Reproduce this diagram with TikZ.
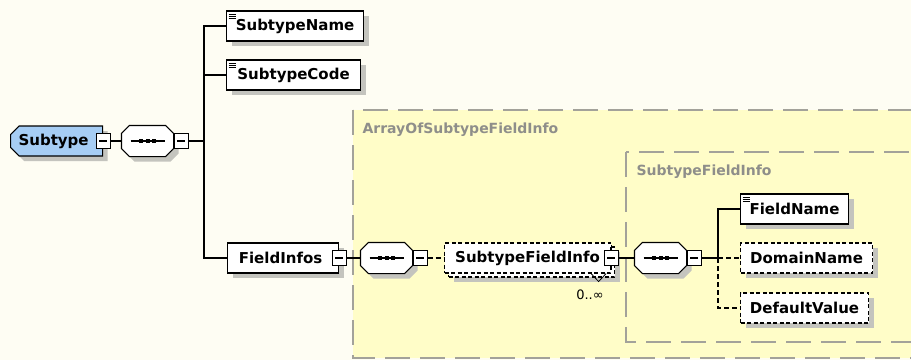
\documentclass[tikz,border=0pt]{standalone}
\usepackage{fontspec}
\setmainfont{DejaVu Sans}
\usetikzlibrary{positioning,shapes.misc,shadows}

\definecolor{paper}{HTML}{FEFDF3}
\definecolor{groupfill}{HTML}{FFFDC8}
\definecolor{groupline}{HTML}{A3A29A}
\definecolor{grouptext}{HTML}{8E8E8A}
\definecolor{shadowgray}{HTML}{C4C4BE}
\definecolor{rootblue}{HTML}{A6CDF4}

% octagon round a sequence node, shifted by #2,#3
\newcommand{\octpath}[3]{([xshift=#2+8pt,yshift=#3]#1.north west) -- ([xshift=#2-8pt,yshift=#3]#1.north east)
    -- ([xshift=#2,yshift=#3-8pt]#1.north east) -- ([xshift=#2,yshift=#3+8pt]#1.south east)
    -- ([xshift=#2-8pt,yshift=#3]#1.south east) -- ([xshift=#2+8pt,yshift=#3]#1.south west)
    -- ([xshift=#2,yshift=#3+8pt]#1.south west) -- ([xshift=#2,yshift=#3-8pt]#1.north west) -- cycle}

\begin{document}
\begin{tikzpicture}[
        x=1pt, y=-1pt, line width=1.1pt,
        every node/.style={font=\fontsize{15}{17}\selectfont\bfseries},
        shade/.style={drop shadow={shadow xshift=5pt, shadow yshift=-5pt, fill=shadowgray, opacity=1}},
        box/.style={rectangle, draw, fill=white, anchor=west, minimum height=30pt, inner xsep=6pt, inner ysep=0pt},
        elem/.style={box, shade},
        optborder/.style={dash pattern=on 4pt off 2.5pt},
        optelem/.style={elem, optborder},
        optline/.style={dash pattern=on 5pt off 3pt},
        leaf/.style={path picture={\foreach \k in {0,1,2}
            \draw[line width=0.8pt] ([xshift=2pt, yshift={-(3+2*\k)*1pt}]path picture bounding box.north west) -- ++(7pt,0pt);}},
        root/.style={chamfered rectangle, chamfered rectangle corners={north west,south west}, chamfered rectangle xsep=5pt,
            draw, fill=rootblue, shade, anchor=west, minimum height=30pt, inner xsep=3pt, inner ysep=0pt},
        seqbox/.style={rectangle, minimum width=51pt, minimum height=30pt, inner sep=0pt},
        mbox/.style={rectangle, draw, fill=white, minimum width=14pt, minimum height=15pt, inner sep=0pt, line width=1pt,
            path picture={\draw[line width=1.2pt] ([xshift=3pt]path picture bounding box.west) -- ([xshift=-3pt]path picture bounding box.east);}},
        group/.style={fill=groupfill, draw=groupline, line width=1.6pt, dash pattern=on 25pt off 10pt},
        grouplabel/.style={anchor=west, text=grouptext, inner sep=0pt, font=\fontsize{14}{16}\selectfont\bfseries}
    ]
    \useasboundingbox (0,0) rectangle (911,360);
    \fill[paper] (0,0) rectangle (911,360);

    % complex type groups
    \draw[group] (353,110) rectangle (945,358);
    \node[grouplabel] (arraylbl) at (362,130) {ArrayOfSubtypeFieldInfo};
    \draw[group] (626,152) rectangle (945,342);
    \node[grouplabel] (sfilbl) at (636,172) {SubtypeFieldInfo};

    % sequence compositors
    \node[seqbox] (seq1) at (147.5,141) {};
    \node[seqbox] (seq2) at (386.5,258) {};
    \node[seqbox] (seq3) at (660.5,258) {};
    \foreach \s in {seq1,seq2,seq3} {
        \fill[shadowgray] \octpath{\s}{5pt}{-5pt};
        \filldraw[fill=white] \octpath{\s}{0pt}{0pt};
        \draw ([xshift=-17pt]\s.center) -- ([xshift=17pt]\s.center);
        \foreach \d in {-6.5,0,6.5}
            \fill ([xshift=\d pt]\s.center) ++(-2pt,-2pt) rectangle ++(4pt,4pt);
    }
    \node[mbox, right=0pt of seq1] (seq1m) {};
    \node[mbox, right=0pt of seq2] (seq2m) {};
    \node[mbox, right=0pt of seq3] (seq3m) {};

    % root
    \node[root, minimum width=89pt] (subtype) at (10,141) {Subtype\hspace*{6pt}};
    \node[mbox] (subtypem) at (subtype.east) {};
    \coordinate (fork1) at (204,141);

    \node[elem, leaf, minimum width=137pt] (sname) at (226,26) {SubtypeName};
    \node[elem, leaf, minimum width=134pt] (scode) at (226,75) {SubtypeCode};
    \node[elem, minimum width=111pt] (finfos) at (227,258) {FieldInfos\hspace*{5pt}};
    \node[mbox] (finfosm) at (finfos.east) {};

    % array content
    \node[optelem, minimum width=166pt] (sfiback) at (448,262) {};
    \node[box, optborder, minimum width=166pt] (sfi) at (444,258) {SubtypeFieldInfo};
    \node[mbox] (sfim) at (sfi.east) {};
    \draw[line width=0.9pt] (sfim.north) -- ++(0,-5);
    \draw[line width=0.9pt] (sfim.south) -- ++(0,4);
    \draw[line width=0.8pt] ([xshift=-20pt]sfi.south east) -- ++(7.5,8) -- ++(7.5,-8);
    \node[font=\fontsize{13}{15}\selectfont] (occurs) at (590,295) {0..∞};

    % subtype field info content
    \coordinate (fork2) at (718,258);
    \node[elem, leaf, minimum width=108pt] (fname) at (740,209) {FieldName};
    \node[optelem, minimum width=132pt] (dname) at (740,258) {DomainName};
    \node[optelem, minimum width=128pt] (dval) at (740,308) {DefaultValue};

    % connectors
    \draw (subtypem.east) -- (seq1.west);
    \draw (seq1m.east) -- (fork1);
    \draw (fork1) |- (sname.west);
    \draw (fork1) |- (scode.west);
    \draw (fork1) |- (finfos.west);
    \draw (finfosm.east) -- (seq2.west);
    \draw[optline] (seq2m.east) -- (sfi.west);
    \draw (sfim.east) -- (seq3.west);
    \draw (seq3m.east) -- (fork2);
    \draw (fork2) |- (fname.west);
    \draw[optline] (fork2) -- (dname.west);
    \draw[optline] (fork2) |- (dval.west);
\end{tikzpicture}
\end{document}
